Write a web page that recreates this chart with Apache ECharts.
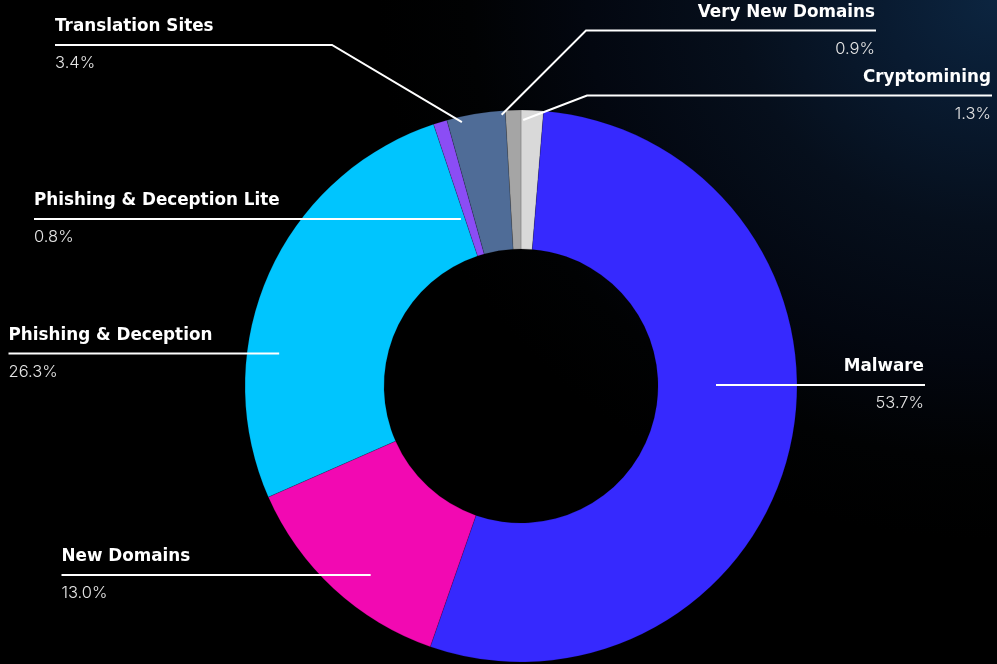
<!DOCTYPE html>
<html>
<head>
<meta charset="utf-8">
<script src="https://cdn.jsdelivr.net/npm/echarts@6/dist/echarts.min.js"></script>
<style>
  html, body { margin: 0; padding: 0; background: #000; }
  #chart {
    width: 997px; height: 664px;
    background:
      radial-gradient(ellipse 620px 540px at 100% 0%, #0c2540 0%, #091b31 18%, #060f1c 42%, #030710 66%, #010203 85%, #000 100%),
      #000;
  }
</style>
</head>
<body>
<div id="chart"></div>
<script>
// Share of blocked requests by category (percent)
const categories = [
  'Cryptomining',
  'Malware',
  'New Domains',
  'Phishing & Deception',
  'Phishing & Deception Lite',
  'Translation Sites',
  'Very New Domains'
];
const shares = [1.3, 53.7, 13.0, 26.3, 0.8, 3.4, 0.9];
const sliceColors = ['#d9d9d9', '#3629fe', '#f209b2', '#00c5fe', '#8b4df5', '#4f6c97', '#a5a5a5'];

// Leader / label placement (pixels): text edge, leader y, optional elbow x,
// and where the leader meets the ring.
const labelSide   = ['right', 'right', 'left', 'left', 'left', 'left', 'right'];
const labelEdgeX  = [991, 924, 61.5, 8.5, 34, 55, 875];
const leaderY     = [95.5, 385, 575, 353.5, 219, 45, 30.5];
const elbowX      = [587, null, null, null, null, 332, 586];
// straight leaders: radius where the leader stops;
// elbow leaders: [position across the slice (0..1), radius]
const leaderTip   = [[0.1, 266], 195, 241.5, 244, 177.5, [0.24, 270.5], [-0.25, 272]];

const CX = 521, CY = 386, R_IN = 137, R_OUT = 276;

const total = shares.reduce((a, b) => a + b, 0);
const startFrac = [];
shares.reduce((acc, v, i) => { startFrac[i] = acc / total; return acc + v; }, 0);

function tipPoint(i) {
  const side = labelSide[i];
  const t = leaderTip[i];
  if (Array.isArray(t)) {
    // clockwise from 12 o'clock
    const frac = startFrac[i] + t[0] * shares[i] / total;
    const ang = frac * Math.PI * 2;
    return [CX + t[1] * Math.sin(ang), CY - t[1] * Math.cos(ang)];
  }
  const dy = leaderY[i] - CY;
  const dx = Math.sqrt(Math.max(t * t - dy * dy, 0));
  return [side === 'left' ? CX - dx : CX + dx, leaderY[i]];
}

const NAME_LH = 39, PCT_LH = 34, TEXT_SHIFT = 1.5;
const NAME_FONT = '"DejaVu Sans", Inter, sans-serif';
const PCT_FONT = 'Inter, "Noto Sans", sans-serif';

const pieData = categories.map((name, i) => ({
  name,
  value: shares[i],
  itemStyle: { color: sliceColors[i] }
}));

const ringBase = {
  type: 'pie',
  center: [CX, CY],
  radius: [R_IN, R_OUT],
  startAngle: 90,
  clockwise: true,
  avoidLabelOverlap: false,
  minShowLabelAngle: 0,
  emphasis: { disabled: true },
  silent: true
};

const chart = echarts.init(document.getElementById('chart'), null, { renderer: 'canvas' });
chart.setOption({
  backgroundColor: 'transparent',
  animation: false,
  series: [
    // the ring itself
    Object.assign({}, ringBase, {
      z: 2,
      data: pieData,
      itemStyle: { borderColor: 'rgba(0,0,0,0.25)', borderWidth: 0.6 },
      label: { show: false },
      labelLine: { show: false }
    }),
    // labels and leaders, drawn above the ring
    Object.assign({}, ringBase, {
      z: 5,
      data: categories.map((name, i) => ({ name, value: shares[i] })),
      itemStyle: { color: 'rgba(0,0,0,0)', borderWidth: 0 },
      label: {
        show: true,
        position: 'outside',
        formatter: p => '{n|' + p.name + '}\n{p|' + p.value.toFixed(1) + '%}',
        rich: {
          n: { fontFamily: NAME_FONT, fontSize: 16.8, fontWeight: 700, color: '#ffffff', lineHeight: NAME_LH },
          p: { fontFamily: PCT_FONT, fontSize: 16.5, fontWeight: 300, color: '#e4e4e4', lineHeight: PCT_LH }
        }
      },
      labelLine: {
        show: true,
        smooth: false,
        lineStyle: { color: '#ffffff', width: 2 }
      },
      labelLayout: function (params) {
        const i = params.dataIndex;
        const side = labelSide[i];
        const y = leaderY[i];
        const tip = tipPoint(i);
        const endX = side === 'left' ? labelEdgeX[i] : labelEdgeX[i] + 1;
        const elbow = elbowX[i] != null ? [elbowX[i], y] : [(tip[0] + endX) / 2, y];
        return {
          x: labelEdgeX[i],
          y: y - NAME_LH + TEXT_SHIFT,
          align: side,
          verticalAlign: 'top',
          labelLinePoints: [tip, elbow, [endX, y]]
        };
      }
    })
  ]
});
</script>
</body>
</html>
